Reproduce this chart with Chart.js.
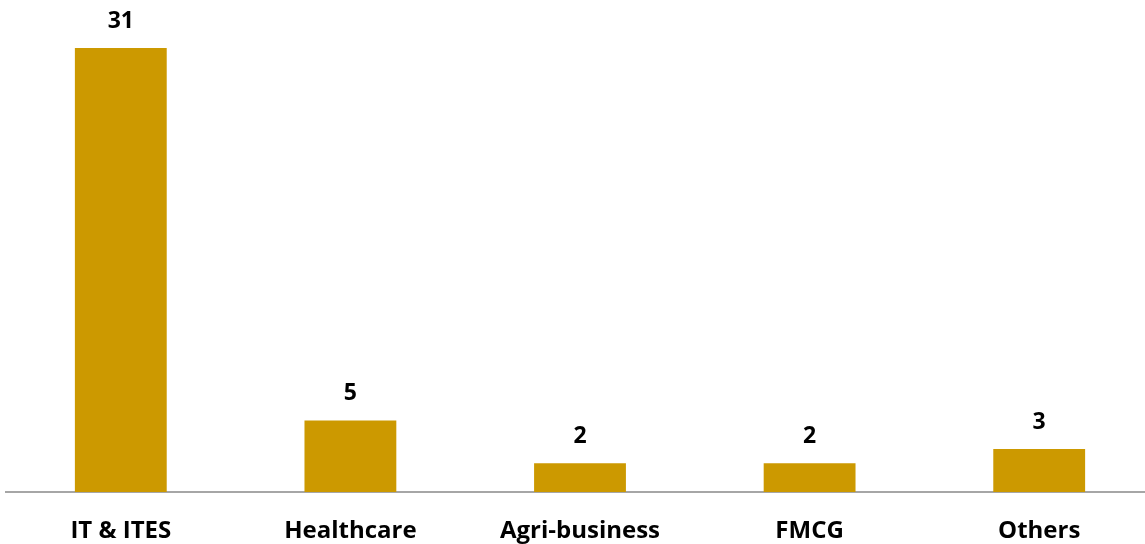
<!DOCTYPE html>
<html>
<head>
<meta charset="utf-8">
<script src="https://cdn.jsdelivr.net/npm/chart.js@4"></script>
<style>
html,body{margin:0;padding:0;overflow:hidden;background:#fff;}
#wrap{width:1155px;height:544px;}
</style>
</head>
<body>
<div id="wrap"><canvas id="c"></canvas></div>
<script>
const categories = ["IT & ITES", "Healthcare", "Agri-business", "FMCG", "Others"];
const values = [31, 5, 2, 2, 3];

const labelPlugin = {
  id: 'valueLabels',
  afterDatasetsDraw(chart) {
    const ctx = chart.ctx;
    const meta = chart.getDatasetMeta(0);
    ctx.save();
    ctx.font = 'bold 23px "Open Sans", Lato, sans-serif';
    ctx.fillStyle = '#000';
    ctx.textAlign = 'center';
    ctx.textBaseline = 'middle';
    meta.data.forEach((bar, i) => {
      ctx.fillText(String(chart.data.datasets[0].data[i]), bar.x, bar.y - 27);
    });
    ctx.restore();
  }
};

new Chart(document.getElementById('c'), {
  type: 'bar',
  data: {
    labels: categories,
    datasets: [{
      data: values,
      backgroundColor: '#CC9900',
      borderWidth: 0,
      categoryPercentage: 1.0,
      barPercentage: 0.4
    }]
  },
  options: {
    responsive: true,
    maintainAspectRatio: false,
    animation: false,
    layout: { padding: { left: 6, right: 1, top: 0, bottom: 0 } },
    plugins: { legend: { display: false }, tooltip: { enabled: false } },
    scales: {
      y: { display: false, min: 0, max: 34.36 },
      x: {
        grid: { display: false, drawTicks: false },
        border: { display: true, color: '#A6A6A6', width: 2 },
        ticks: {
          color: '#000',
          padding: 25,
          font: { family: '"Open Sans", Lato, sans-serif', size: 24, weight: 'bold' }
        },
        afterFit(scale) { scale.height = 52; }
      }
    }
  },
  plugins: [labelPlugin]
});
</script>
</body>
</html>
